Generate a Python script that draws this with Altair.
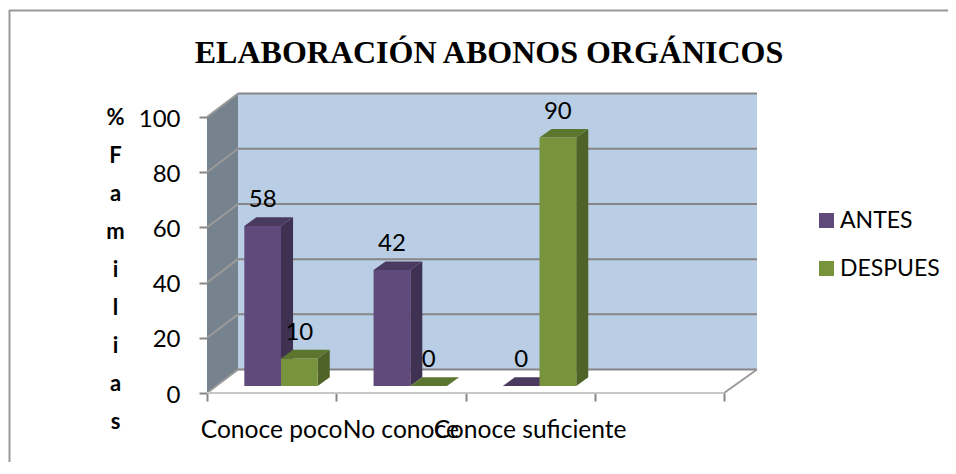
import altair as alt
import pandas as pd

TITLE = "ELABORACIÓN ABONOS ORGÁNICOS"
categories = ["Conoce poco", "No conoce", "Conoce suficiente"]
series_names = ["ANTES", "DESPUES"]
antes = [58, 42, 0]
despues = [10, 0, 90]
y_ticks = [0, 20, 40, 60, 80, 100]
x_ticks = [0, 1, 2, 3, 4]
y_title = ["%", "F", "a", "m", "i", "l", "i", "a", "s"]

front = {"ANTES": "#604A7B", "DESPUES": "#77933C"}
side = {"ANTES": "#3F3151", "DESPUES": "#4F6228"}
top = {"ANTES": "#4A3A60", "DESPUES": "#5C752F"}

# 3D projection parameters, in axis units
N_SLOTS = 4
WALL_DX, WALL_DY = 0.24, 8.5
WALL_END = N_SLOTS + 0.255
BASE_DX, BASE_DY = 0.0727, 2.54
BAR_DX, BAR_DY = 0.093, 3.15
BAR_W, GAP = 0.284, 0.216
X_MAX, Y_MAX = 4.2553, 108.7

x_scale = alt.Scale(domain=[0, X_MAX], nice=False, zero=False)
y_scale = alt.Scale(domain=[0, Y_MAX], nice=False, zero=False)

fronts, sides, tops, labels = [], [], [], []
bar_id = 0
for i, cat in enumerate(categories):
    for j, (name, vals) in enumerate(zip(series_names, [antes, despues])):
        v = vals[i]
        x0 = i + GAP + BASE_DX + j * BAR_W
        x1 = x0 + BAR_W
        y0 = BASE_DY
        y1 = BASE_DY + v
        fronts.append(dict(x=x0, x2=x1, y=y0, y2=y1, serie=name))
        sides += [
            dict(x=x1, y=y0, y2=y1, id=bar_id, c=side[name]),
            dict(x=x1 + BAR_DX, y=y0 + BAR_DY, y2=y1 + BAR_DY, id=bar_id, c=side[name]),
        ]
        tops += [
            dict(y=y1, x=x0, x2=x1, id=bar_id, c=top[name]),
            dict(y=y1 + BAR_DY, x=x0 + BAR_DX, x2=x1 + BAR_DX, id=bar_id, c=top[name]),
        ]
        labels.append(dict(x=(x0 + x1) / 2, y=y1 + BAR_DY, t=str(v)))
        bar_id += 1

GRID = "#868686"
x_axis = alt.Axis(
    values=x_ticks, labels=False, title=None, grid=False, domain=False,
    tickColor=GRID, tickSize=8, tickWidth=2)
y_axis = alt.Axis(
    values=y_ticks, title=y_title, grid=False, domain=False,
    tickColor=GRID, tickSize=8, tickWidth=2,
    labelFont="Lato", labelFontSize=24, labelColor="#000000", labelPadding=19, labelOffset=2,
    titleFont="Lato", titleFontSize=22, titleFontWeight="bold", titleColor="#000000",
    titleAngle=0, titleLineHeight=38, titleAlign="center", titleBaseline="top",
    titleX=-92, titleY=14)
X = alt.X("x:Q", scale=x_scale, axis=x_axis)
Y = alt.Y("y:Q", scale=y_scale, axis=y_axis)

left_wall = alt.Chart(pd.DataFrame([
    dict(x=0, y=0, y2=y_ticks[-1]),
    dict(x=WALL_DX, y=WALL_DY, y2=y_ticks[-1] + WALL_DY),
])).mark_area(color="#76838F").encode(x=X, y=Y, y2="y2:Q")

back_wall = alt.Chart(pd.DataFrame([
    dict(x=WALL_DX, x2=WALL_END, y=WALL_DY, y2=y_ticks[-1] + WALL_DY)
])).mark_rect(color="#B9CDE5").encode(x=X, x2="x2:Q", y=Y, y2="y2:Q")

grid_back = alt.Chart(pd.DataFrame([
    dict(x=WALL_DX, x2=WALL_END, y=t + WALL_DY) for t in y_ticks
])).mark_rule(color=GRID, strokeWidth=2).encode(x=X, x2="x2:Q", y=Y)

diag_rows = []
for t in y_ticks:
    diag_rows += [dict(x=0, y=t, k=t), dict(x=WALL_DX, y=t + WALL_DY, k=t)]
diag_rows += [dict(x=N_SLOTS, y=0, k=-1), dict(x=WALL_END, y=WALL_DY, k=-1)]
grid_diag = alt.Chart(pd.DataFrame(diag_rows)).mark_line(color="#9A9A9A", strokeWidth=2).encode(
    x=X, y=Y, detail="k:N")

floor_front = alt.Chart(pd.DataFrame([dict(x=0, x2=N_SLOTS, y=0)])).mark_rule(
    color="#C8C8C8", strokeWidth=2).encode(x=X, x2="x2:Q", y=Y)

side_faces = alt.Chart(pd.DataFrame(sides)).mark_area().encode(
    x=X, y=Y, y2="y2:Q", detail="id:N", color=alt.Color("c:N", scale=None))

top_faces = alt.Chart(pd.DataFrame(tops)).mark_area(orient="horizontal").encode(
    y=Y, x=X, x2="x2:Q", detail="id:N", color=alt.Color("c:N", scale=None))

front_faces = alt.Chart(pd.DataFrame(fronts)).mark_rect().encode(
    x=X, x2="x2:Q", y=Y, y2="y2:Q",
    color=alt.Color("serie:N",
        scale=alt.Scale(domain=series_names, range=[front[s] for s in series_names]),
        legend=alt.Legend(title=None, orient="none", legendX=608, legendY=116,
            symbolType="square", symbolSize=225, symbolStrokeWidth=0,
            labelFont="Lato", labelFontSize=23, labelColor="#000000",
            labelOffset=2, rowPadding=24)),
)

value_labels = alt.Chart(pd.DataFrame(labels)).mark_text(
    font="Lato", fontSize=24, color="#000000", baseline="middle", dy=-17).encode(
    x=X, y=Y, text="t:N")

cat_labels = alt.Chart(pd.DataFrame(
    [dict(x=i + 0.5, y=0, t=c) for i, c in enumerate(categories)]
)).mark_text(font="Lato", fontSize=24.6, color="#000000", baseline="middle", dy=38).encode(
    x=X, y=Y, text="t:N")

frame_top = alt.Chart(pd.DataFrame([dict(k=1)])).mark_rule(color="#999999", strokeWidth=2).encode(
    x=alt.value(-198), x2=alt.value(741), y=alt.value(-82.5))
frame_left = alt.Chart(pd.DataFrame([dict(k=1)])).mark_rule(color="#999999", strokeWidth=2).encode(
    x=alt.value(-197.5), y=alt.value(-83), y2=alt.value(369))

chart = alt.layer(
    frame_top, frame_left,
    left_wall, back_wall, grid_back, grid_diag, floor_front,
    side_faces, top_faces, front_faces, value_labels, cat_labels,
).properties(
    width=550, height=300,
    title=alt.TitleParams(TITLE, font="Liberation Serif", fontSize=32, fontWeight="bold",
                          color="#000000", anchor="middle", dx=7, offset=-86, baseline="alphabetic"),
    padding={"left": 199, "top": 85, "right": 191, "bottom": 69},
    autosize=alt.AutoSizeParams(type="none"),
    background="#FFFFFF",
).configure_view(stroke=None)

chart.save("out.html", embed_options={"renderer": "svg", "actions": False})
